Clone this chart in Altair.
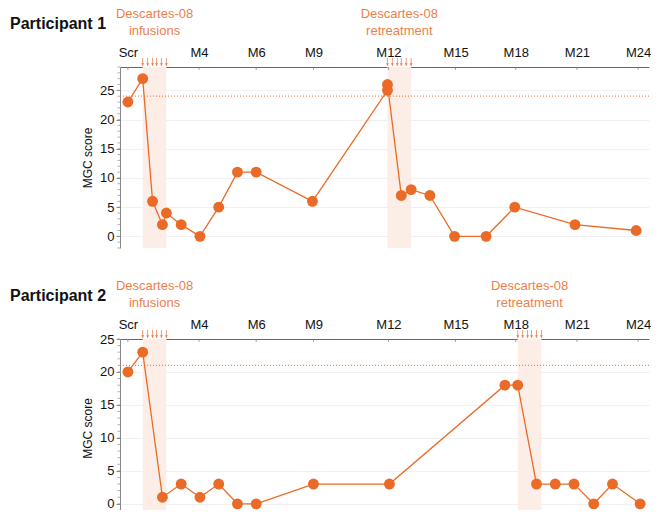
import altair as alt
import pandas as pd

ORANGE = "#EA6A27"
ANNOT = "#EC804C"
BAND = "#FCEEE7"

# timeline positions (study-visit position scale) and labels
tick_pos = [0, 72, 130, 188, 264, 332, 393, 455, 517]
tick_lab = ["Scr", "M4", "M6", "M9", "M12", "M15", "M18", "M21", "M24"]

# Participant 1
p1_x = [0, 15, 25, 35, 39, 54, 73, 92, 111, 130, 187, 263, 263, 277, 287, 306, 331, 363, 392, 453, 515]
p1_y = [23, 27, 6, 2, 4, 2, 0, 5, 11, 11, 6, 25, 26, 7, 8, 7, 0, 0, 5, 2, 1]
p1_band_start = [15, 263]
p1_band_end = [39, 287]
p1_band_label = ["Descartes-08\ninfusions", "Descartes-08\nretreatment"]
p1_arrows = [15, 20, 25, 29, 34, 39, 263, 268, 273, 277, 282, 287]
p1_ref = 24

# Participant 2
p2_x = [0, 15, 35, 54, 73, 92, 111, 130, 188, 265, 382, 395, 414, 433, 452, 472, 491, 519]
p2_y = [20, 23, 1, 3, 1, 3, 0, 0, 3, 3, 18, 18, 3, 3, 3, 0, 3, 0]
p2_band_start = [15, 395]
p2_band_end = [39, 419]
p2_band_label = ["Descartes-08\ninfusions", "Descartes-08\nretreatment"]
p2_arrows = [15, 20, 25, 29, 34, 39, 395, 400, 405, 409, 414, 419]
p2_ref = 21

y_major = [0, 5, 10, 15, 20, 25]

label_expr = "{" + ",".join(f"'{p}':'{l}'" for p, l in zip(tick_pos, tick_lab)) + "}[datum.value]"


def panel(title, xs, ys, bstart, bend, blabel, arrows, ref, ydomain, height):
    W = 529
    pts = pd.DataFrame({"x": xs, "y": ys, "i": range(len(xs))})
    bands = pd.DataFrame({"s": bstart, "e": bend, "label": blabel,
                          "c": [(a + b) / 2 for a, b in zip(bstart, bend)]})
    arr = pd.DataFrame({"x": arrows})
    minor = pd.DataFrame({"v": list(range(int(ydomain[0]), int(ydomain[1]) + 1))})
    xt = pd.DataFrame({"x": tick_pos})
    xscale = alt.Scale(domain=[-8, 528], nice=False, zero=False)
    yscale = alt.Scale(domain=ydomain, nice=False, zero=False)
    xaxis = alt.Axis(orient="top", values=tick_pos, labelExpr=label_expr, grid=False,
                     title=None, labelFontSize=13, labelColor="#111", domainColor="#666",
                     ticks=False, labelPadding=8, labelFont="Liberation Sans",
                     labelOverlap=False)
    yaxis = alt.Axis(values=y_major, grid=True, gridColor="#F0F0F0",
                     title="MGC score", titleFontSize=12, titleFontWeight="normal",
                     titleColor="#111", labelFontSize=13, labelColor="#111",
                     domainColor="#888", tickColor="#888", tickSize=4, titlePadding=5,
                     labelFont="Liberation Sans", titleFont="Liberation Sans",
                     labelOverlap=False, labelPadding=2)

    X = lambda f: alt.X(f, scale=xscale, axis=xaxis)
    Y = lambda f: alt.Y(f, scale=yscale, axis=yaxis)

    band = alt.Chart(bands).mark_rect(color=BAND).encode(
        x=X("s:Q"), x2="e:Q", y=alt.value(0), y2=alt.value(height))
    refl = alt.Chart(pd.DataFrame({"r": [ref]})).mark_rule(
        color=ORANGE, strokeDash=[1, 2], strokeWidth=1.2, opacity=0.8).encode(y=Y("r:Q"))
    mticks = alt.Chart(minor).mark_rule(color="#999", strokeWidth=0.8).encode(
        y=Y("v:Q"), x=alt.value(-2.5), x2=alt.value(0))
    xticks = alt.Chart(xt).mark_rule(color="#888", strokeWidth=0.8).encode(
        x=X("x:Q"), y=alt.value(0), y2=alt.value(3))
    line = alt.Chart(pts).mark_line(color=ORANGE, strokeWidth=1.3).encode(
        x=X("x:Q"), y=Y("y:Q"), order="i:Q")
    dots = alt.Chart(pts).mark_circle(color=ORANGE, opacity=1, size=118).encode(
        x=X("x:Q"), y=Y("y:Q"))
    ashaft = alt.Chart(arr).mark_rule(color=ANNOT, strokeWidth=0.8).encode(
        x=X("x:Q"), y=alt.value(-9), y2=alt.value(-1))
    ahead = alt.Chart(arr).mark_point(shape="triangle-down", filled=True, color=ANNOT,
                                      size=9, opacity=1).encode(
        x=X("x:Q"), y=alt.value(-2.5))
    ann = alt.Chart(bands).mark_text(color=ANNOT, fontSize=13, lineBreak="\n",
                                     font="Liberation Sans", baseline="middle",
                                     lineHeight=17).encode(
        x=X("c:Q"), y=alt.value(-53), text="label:N")
    ttl = alt.Chart(pd.DataFrame({"t": [title]})).mark_text(
        fontSize=16, fontWeight="bold", align="left", baseline="middle",
        font="Liberation Sans", color="#111").encode(
        x=alt.value(-110), y=alt.value(-43), text="t:N")
    return alt.layer(band, refl, mticks, xticks, line, dots, ashaft, ahead, ann, ttl).properties(
        width=W, height=height)


top = panel("Participant 1", p1_x, p1_y, p1_band_start, p1_band_end, p1_band_label,
            p1_arrows, p1_ref, [-2, 29], 181)
bot = panel("Participant 2", p2_x, p2_y, p2_band_start, p2_band_end, p2_band_label,
            p2_arrows, p2_ref, [-2, 25], 178)

chart = alt.vconcat(top, bot, spacing=31).resolve_scale(y="independent").properties(
    padding={"left": 2, "top": 0, "right": 0, "bottom": -8}
).configure_view(stroke=None)

chart.save("out.html", embed_options={"renderer": "svg", "actions": False})
